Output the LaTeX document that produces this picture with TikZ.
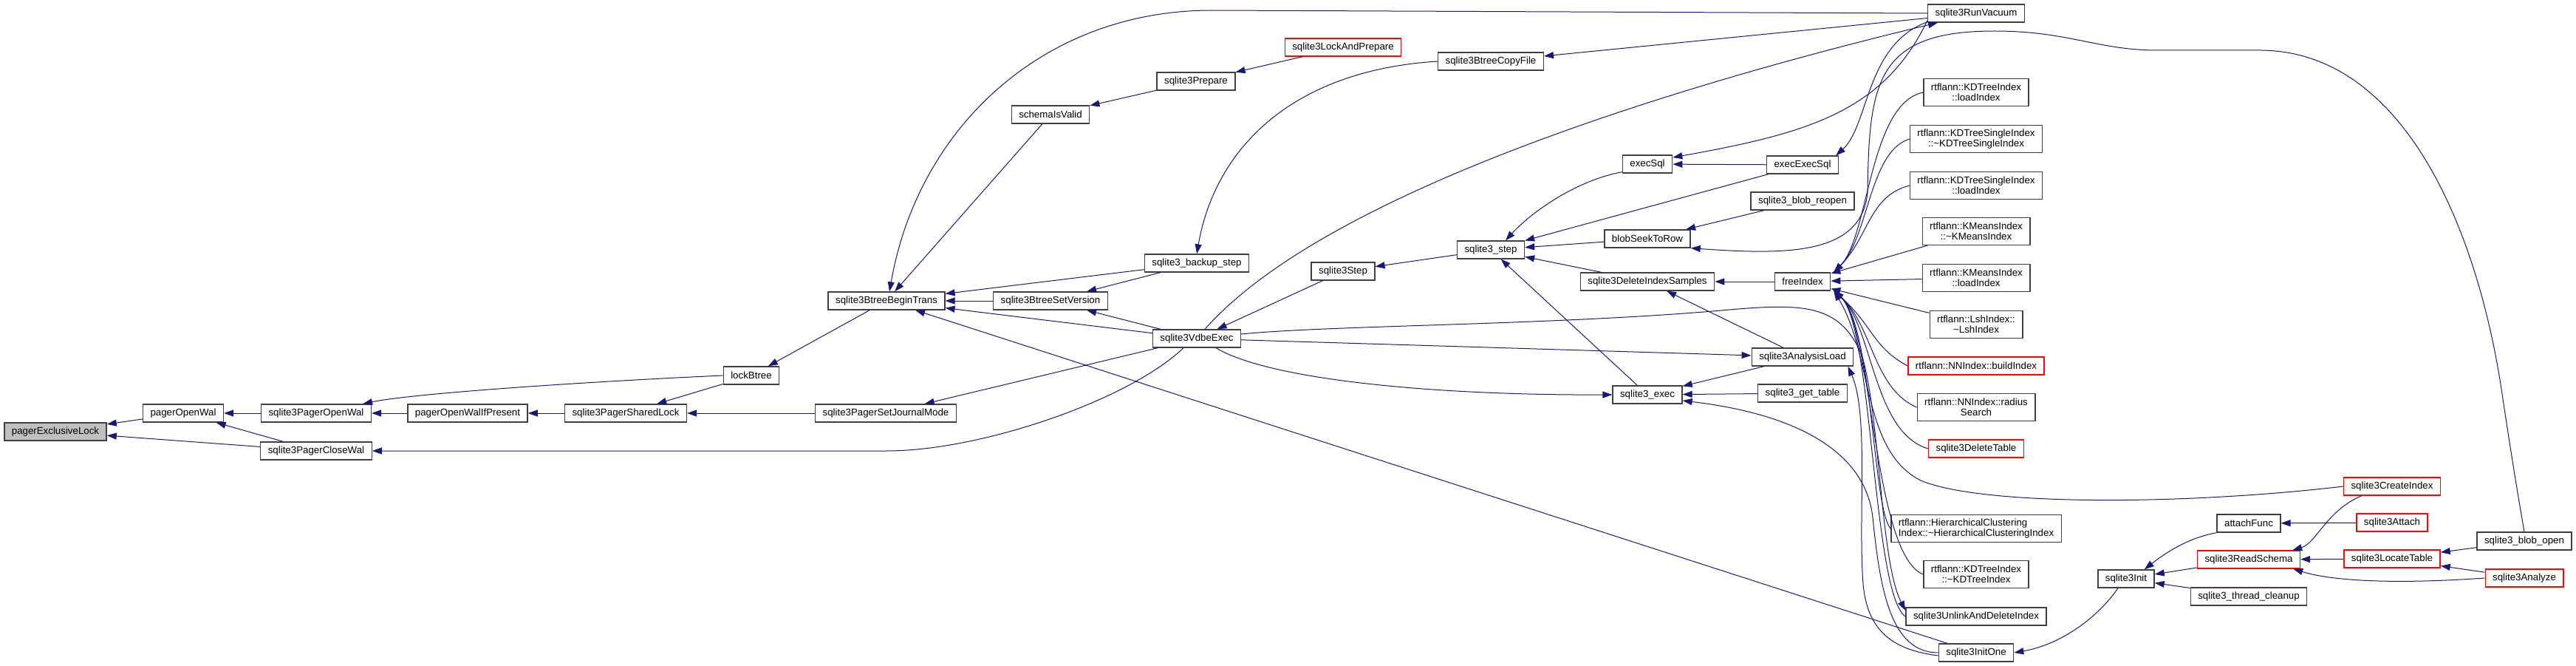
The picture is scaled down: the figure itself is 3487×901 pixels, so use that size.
\documentclass[tikz,border=0pt]{standalone}
\usepackage{fontspec}
\setmainfont{Liberation Sans}
\usepackage{tikz}
\usetikzlibrary{positioning, arrows.meta, calc}
\definecolor{edgeblue}{RGB}{25,25,112}
\definecolor{boxline}{RGB}{64,64,64}
\definecolor{rootfill}{RGB}{191,191,191}
\definecolor{cutred}{RGB}{255,0,0}

\begin{document}
\begin{tikzpicture}[
  x=1pt, y=-1pt,
  fn/.style={draw=boxline, fill=white, line width=1.3pt, inner xsep=10pt,
             inner ysep=4pt, minimum height=24pt, align=center,
             font=\fontsize{13.3}{14}\selectfont},
  fnroot/.style={fn, fill=rootfill},
  fncut/.style={fn, draw=cutred},
  fntwo/.style={fn, minimum height=37pt},
  callarr/.style={{Triangle[length=13pt, width=9pt]}-, draw=edgeblue, line width=1pt}]

  \useasboundingbox (0,0) rectangle (3487,901);

  % --- pager side
  \node[fnroot] (root)          at (  75, 584) {pagerExclusiveLock};
  \node[fn]     (openWal)       at ( 248, 559) {pagerOpenWal};
  \node[fn]     (pagerOpen)     at ( 428, 559) {sqlite3PagerOpenWal};
  \node[fn]     (pagerClose)    at ( 428, 610) {sqlite3PagerCloseWal};
  \node[fn]     (openIfPresent) at ( 633, 559) {pagerOpenWalIfPresent};
  \node[fn]     (sharedLock)    at ( 847, 559) {sqlite3PagerSharedLock};
  \node[fn]     (lockBtree)     at (1017, 508) {lockBtree};
  \node[fn]     (journalMode)   at (1199, 559) {sqlite3PagerSetJournalMode};

  % --- btree and vdbe
  \node[fn]     (beginTrans)    at (1200, 407) {sqlite3BtreeBeginTrans};
  \node[fn]     (schemaValid)   at (1422, 155) {schemaIsValid};
  \node[fn]     (setVersion)    at (1422, 407) {sqlite3BtreeSetVersion};
  \node[fn]     (prepare)       at (1619, 110) {sqlite3Prepare};
  \node[fn]     (backupStep)    at (1620, 356) {sqlite3\_backup\_step};
  \node[fn]     (vdbeExec)      at (1620, 458) {sqlite3VdbeExec};
  \node[fncut]  (lockPrepare)   at (1818,  64) {sqlite3LockAndPrepare};
  \node[fn]     (vdbeStep)      at (1818, 367) {sqlite3Step};
  \node[fn]     (copyFile)      at (2018,  83) {sqlite3BtreeCopyFile};
  \node[fn]     (apiStep)       at (2018, 338) {sqlite3\_step};
  \node[fn]     (execSql)       at (2230, 222) {execSql};
  \node[fn]     (blobSeek)      at (2230, 323) {blobSeekToRow};
  \node[fn]     (deleteSamples) at (2230, 381) {sqlite3DeleteIndexSamples};
  \node[fn]     (apiExec)       at (2230, 534) {sqlite3\_exec};
  \node[fn]     (execExecSql)   at (2440, 223) {execExecSql};
  \node[fn]     (blobReopen)    at (2440, 272) {sqlite3\_blob\_reopen};
  \node[fn]     (freeIndex)     at (2440, 381) {freeIndex};
  \node[fn]     (analysisLoad)  at (2440, 483) {sqlite3AnalysisLoad};
  \node[fn]     (getTable)      at (2440, 532) {sqlite3\_get\_table};

  % --- callers of freeIndex
  \node[fn]     (runVacuum)     at (2675,  18) {sqlite3RunVacuum};
  \node[fntwo]  (kdLoad)        at (2675, 125) {rtflann::KDTreeIndex\\::loadIndex};
  \node[fntwo]  (kdsDtor)       at (2675, 188) {rtflann::KDTreeSingleIndex\\::\textasciitilde KDTreeSingleIndex};
  \node[fntwo]  (kdsLoad)       at (2675, 251) {rtflann::KDTreeSingleIndex\\::loadIndex};
  \node[fntwo]  (kmDtor)        at (2675, 313) {rtflann::KMeansIndex\\::\textasciitilde KMeansIndex};
  \node[fntwo]  (kmLoad)        at (2675, 376) {rtflann::KMeansIndex\\::loadIndex};
  \node[fntwo]  (lshDtor)       at (2675, 439) {rtflann::LshIndex::\\\textasciitilde LshIndex};
  \node[fncut]  (nnBuild)       at (2675, 495) {rtflann::NNIndex::buildIndex};
  \node[fntwo]  (nnRadius)      at (2675, 551) {rtflann::NNIndex::radius\\Search};
  \node[fncut]  (deleteTable)   at (2675, 607) {sqlite3DeleteTable};
  \node[fntwo, align=left] (hcDtor) at (2675, 715)
    {rtflann::HierarchicalClustering\\Index::\textasciitilde HierarchicalClusteringIndex};
  \node[fntwo]  (kdDtor)        at (2675, 777) {rtflann::KDTreeIndex\\::\textasciitilde KDTreeIndex};
  \node[fn]     (unlinkIndex)   at (2675, 834) {sqlite3UnlinkAndDeleteIndex};
  \node[fn]     (initOne)       at (2675, 883) {sqlite3InitOne};

  % --- schema loading
  \node[fn]     (init)          at (2878, 783) {sqlite3Init};
  \node[fn]     (attachFunc)    at (3044, 708) {attachFunc};
  \node[fncut]  (readSchema)    at (3044, 757) {sqlite3ReadSchema};
  \node[fn]     (threadCleanup) at (3044, 807) {sqlite3\_thread\_cleanup};
  \node[fncut]  (createIndex)   at (3238, 658) {sqlite3CreateIndex};
  \node[fncut]  (attach)        at (3238, 707) {sqlite3Attach};
  \node[fncut]  (locateTable)   at (3238, 756) {sqlite3LocateTable};
  \node[fn]     (blobOpen)      at (3417, 732) {sqlite3\_blob\_open};
  \node[fncut]  (analyze)       at (3417, 782) {sqlite3Analyze};

  % --- straight calls, callee first
  \foreach \a/\b in {root/openWal, root/pagerClose, openWal/pagerOpen, openWal/pagerClose,
      pagerOpen/openIfPresent, openIfPresent/sharedLock, sharedLock/lockBtree,
      sharedLock/journalMode, lockBtree/beginTrans, journalMode/vdbeExec,
      beginTrans/schemaValid, beginTrans/backupStep, beginTrans/setVersion,
      beginTrans/vdbeExec, beginTrans/initOne, schemaValid/prepare, prepare/lockPrepare,
      setVersion/backupStep, setVersion/vdbeExec, copyFile/runVacuum, vdbeExec/vdbeStep,
      vdbeStep/apiStep, apiStep/execExecSql, apiStep/blobSeek, apiStep/deleteSamples,
      apiStep/apiExec, execSql/execExecSql, blobSeek/blobReopen, deleteSamples/freeIndex,
      deleteSamples/analysisLoad, apiExec/analysisLoad, apiExec/getTable,
      analysisLoad/vdbeExec, freeIndex/kmDtor, freeIndex/kmLoad, freeIndex/lshDtor,
      init/readSchema, init/threadCleanup, attachFunc/attach, readSchema/locateTable,
      locateTable/blobOpen, locateTable/analyze}
    \draw[callarr] (\a) -- (\b);

  % --- bent calls on the left half
  \draw[callarr] ($(pagerOpen.north east)+(-12,0)$) .. controls (560,532) and (800,516) .. (lockBtree.west);
  \draw[callarr] (pagerClose.east) -- (1200,610)
    .. controls (1330,610) and (1530,540) .. ($(vdbeExec.south)+(-18,0)$);
  \draw[callarr] ($(beginTrans.north)+(4,0)$) .. controls (1243,172) and (1413,14) .. (1640,14)
    -- (runVacuum.west);
  \draw[callarr] (backupStep.north) .. controls (1645,200) and (1750,95) .. (copyFile.west);
  \draw[callarr] ($(runVacuum.south west)+(14,0)$) .. controls (2250,120) and (1790,265)
    .. ($(vdbeExec.north)+(11,0)$);
  \draw[callarr] (apiExec.west) .. controls (1950,535) and (1720,515) .. ($(vdbeExec.south)+(26,0)$);

  % --- vacuum and blob helpers
  \draw[callarr] ($(execSql.east)+(0,-9)$) .. controls (2450,180) and (2550,150)
    .. ($(runVacuum.south west)+(0,-3)$);
  \draw[callarr] ($(execExecSql.north east)+(-4,0)$) .. controls (2530,170) and (2525,60)
    .. ($(runVacuum.south west)+(0,-1)$);
  \draw[callarr] ($(apiStep.north)+(20,0)$) .. controls (2070,290) and (2130,245)
    .. ($(execSql.south west)+(0,-2)$);
  % blob_open reaches blobSeekToRow over the top of the freeIndex column
  \draw[callarr] (blobSeek.south east) .. controls (2420,345) and (2520,345) .. (2528,260)
    .. controls (2530,110) and (2540,42) .. (2700,42)
    .. controls (2800,42) and (2840,68) .. (2920,68) -- (3061,68)
    .. controls (3250,70) and (3350,300) .. (3385,520)
    .. controls (3400,620) and (3410,680) .. (blobOpen.north);

  % --- into freeIndex
  \foreach \n/\c in {kdLoad/140, kdsDtor/205, kdsLoad/265}
    \draw[callarr] ($(freeIndex.north east)+(4,0)$) .. controls (2530,320) and (2530,\c) .. (\n.west);
  \foreach \n/\c in {nnBuild/470, nnRadius/525, deleteTable/585, hcDtor/690, kdDtor/750, unlinkIndex/805}
    \draw[callarr] ($(freeIndex.south east)+(4,0)$) .. controls (2535,440) and (2535,\c) .. (\n.west);
  \draw[callarr] ($(freeIndex.south east)+(4,0)$) .. controls (2535,480) and (2520,610) .. (2600,650)
    .. controls (2680,684) and (2950,684) .. (createIndex.west);

  % --- long calls down the column
  \draw[callarr] ($(unlinkIndex.west)+(0,-8)$) .. controls (2545,760) and (2545,560) .. (2520,480)
    .. controls (2490,410) and (2440,410) .. (2330,420)
    .. controls (2100,440) and (1800,440) .. ($(vdbeExec.east)+(0,-6)$);
  \draw[callarr] ($(apiExec.east)+(0,8)$) .. controls (2430,560) and (2525,610) .. (2535,700)
    .. controls (2545,800) and (2560,883) .. (initOne.west);
  \draw[callarr] ($(analysisLoad.south east)+(-8,0)$) .. controls (2530,560) and (2515,700) .. (2522,790)
    .. controls (2528,860) and (2570,880) .. ($(initOne.west)+(0,4)$);

  % --- schema side
  \draw[callarr] (initOne.east) .. controls (2790,872) and (2840,835) .. ($(init.south)+(-11,0)$);
  \draw[callarr] ($(init.north east)+(-14,0)$) .. controls (2935,745) and (2965,727) .. (attachFunc.south west);
  \draw[callarr] ($(readSchema.north east)+(-11,0)$) .. controls (3135,735) and (3150,690)
    .. ($(createIndex.south west)+(25,0)$);
  \draw[callarr] ($(readSchema.south east)+(-10,0)$) .. controls (3160,787) and (3250,790) .. (analyze.west);
\end{tikzpicture}
\end{document}
